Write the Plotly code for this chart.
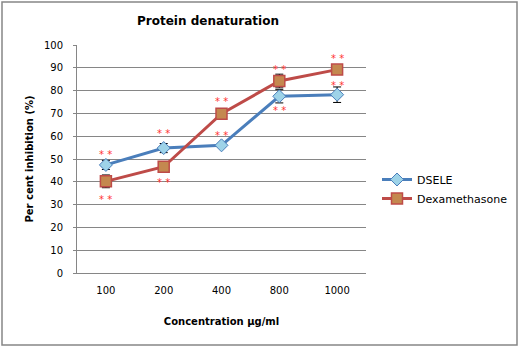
import plotly.graph_objects as go

# Concentrations (µg/ml) and percent inhibition of protein denaturation
concentrations = ["100", "200", "400", "800", "1000"]
dsele = [47.4, 54.8, 56.0, 77.5, 78.2]
dsele_err = [2.0, 2.0, 0.8, 2.9, 3.4]
dexamethasone = [40.2, 46.6, 69.9, 84.2, 89.2]
dexa_err = [2.8, 1.0, 0.8, 3.0, 0.8]

# Significance marks: pixel offset of the "* *" label from each point (positive = above)
dsele_sig_shift = [12, 17, 12, -12, 11]
dexa_sig_shift = [-16, -14, 14, 14, 13]

BLUE = "#4A7EBB"
RED = "#BE4B48"
FONT = "DejaVu Sans"

fig = go.Figure()
fig.add_trace(go.Scatter(
    x=concentrations, y=dsele, name="DSELE", mode="lines+markers",
    line=dict(color=BLUE, width=3),
    marker=dict(symbol="diamond", size=10, color="#9ED3E8",
                line=dict(color=BLUE, width=1)),
    error_y=dict(type="data", array=dsele_err, color="black", thickness=1, width=4),
))
fig.add_trace(go.Scatter(
    x=concentrations, y=dexamethasone, name="Dexamethasone", mode="lines+markers",
    line=dict(color=RED, width=3),
    marker=dict(symbol="square", size=11, color="#C4884F",
                line=dict(color=RED, width=1.5)),
    error_y=dict(type="data", array=dexa_err, color="black", thickness=1, width=4),
))

annotations = []
for ys, shifts in ((dsele, dsele_sig_shift), (dexamethasone, dexa_sig_shift)):
    for i, (yv, s) in enumerate(zip(ys, shifts)):
        annotations.append(dict(x=i, y=yv, xref="x", yref="y", text="* *",
                                showarrow=False, yshift=s - 2,
                                font=dict(family=FONT, size=10, color="#FF3333")))

annotations.append(dict(text="<b>Protein denaturation</b>", xref="paper", yref="paper",
                        x=0.455, y=1.0, yshift=24, yanchor="middle", showarrow=False,
                        font=dict(family=FONT, size=12, color="black")))

fig.update_layout(
    width=520, height=348,
    margin=dict(l=77, r=154, t=45, b=75),
    paper_bgcolor="white", plot_bgcolor="white",
    font=dict(family=FONT, size=11, color="black"),
    showlegend=True,
    legend=dict(xref="container", yref="container",
                x=377 / 520, y=1 - 189 / 348, xanchor="left", yanchor="middle",
                font=dict(family=FONT, size=11, color="black"),
                tracegroupgap=6, itemwidth=30),
    annotations=annotations,
    shapes=[dict(type="rect", xref="paper", yref="paper",
                 x0=-75 / 289, x1=1 + 151 / 289, y0=-72 / 228, y1=1 + 43 / 228,
                 line=dict(color="#868686", width=1.5))],
)
fig.update_xaxes(
    type="category", range=[-0.5, 4.5],
    showline=True, linecolor="#868686", linewidth=1,
    showgrid=False, ticks="", tickfont=dict(size=10), ticklabelstandoff=8,
    title=dict(text="<b>Concentration µg/ml</b>", font=dict(size=10), standoff=22),
)
fig.update_yaxes(
    range=[0, 100], dtick=10,
    showline=True, linecolor="#868686", linewidth=1,
    showgrid=True, gridcolor="#868686", gridwidth=1,
    ticks="outside", ticklen=3, tickcolor="#868686", tickfont=dict(size=10),
    ticklabelstandoff=8,
    title=dict(text="<b>Per cent inhibition (%)</b>", font=dict(size=10), standoff=8),
)

fig.write_html("out.html")
